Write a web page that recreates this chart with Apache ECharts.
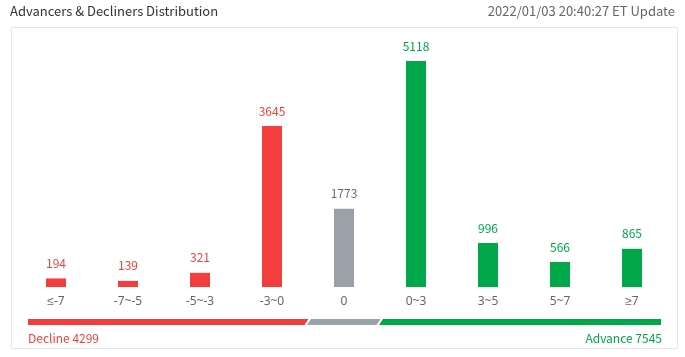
<!DOCTYPE html>
<html>
<head>
<meta charset="utf-8">
<script src="https://cdn.jsdelivr.net/npm/echarts@6/dist/echarts.min.js"></script>
<style>
html,body{margin:0;padding:0;background:#fff;}
#c{width:685px;height:357px;}
</style>
</head>
<body>
<div id="c"></div>
<script>
// ---- data ----
const categories = ['≤-7', '-7~-5', '-5~-3', '-3~0', '0', '0~3', '3~5', '5~7', '≥7'];
const counts = [194, 139, 321, 3645, 1773, 5118, 996, 566, 865];
const groups = ['down', 'down', 'down', 'down', 'flat', 'up', 'up', 'up', 'up'];
const declineCount = 4299;
const advanceCount = 7545;
const titleText = 'Advancers & Decliners Distribution';
const updateText = '2022/01/03 20:40:27 ET Update';
// segments of the bottom strip: [first category index, last category index, group]
const segments = [[0, 3, 'down'], [4, 4, 'flat'], [5, 8, 'up']];

// ---- styles ----
const FONT = '"Noto Sans CJK SC", "Noto Sans", sans-serif';
const AXFONT = '"Noto Sans", sans-serif';
const barColor = { down: '#f23f3d', flat: '#9aa1ab', up: '#00a84a' };
const labelColor = { down: '#f23f3d', flat: '#5f6f92', up: '#00a84a' };

const chart = echarts.init(document.getElementById('c'), null, { renderer: 'canvas' });

const barData = counts.map((v, i) => ({
  value: v,
  itemStyle: { color: barColor[groups[i]] },
  label: { color: labelColor[groups[i]] }
}));

function renderStrip(params, api) {
  const s = api.value(0), e = api.value(1), g = segments[params.dataIndex][2];
  const band = api.size([1, 0])[0];
  const base = api.coord([0, 0]);
  const y0 = base[1] + 32, h = 6;
  const leftEdge = api.coord([s, 0])[0] - band / 2;
  const rightEdge = api.coord([e, 0])[0] + band / 2;
  let tl, bl, tr, br;
  if (s === 0) { tl = bl = leftEdge + 8; } else { tl = leftEdge + 3; bl = leftEdge - 1; }
  if (e === categories.length - 1) { tr = br = rightEdge - 7; } else { tr = rightEdge + 0.5; br = rightEdge - 3.5; }
  const children = [{
    type: 'polygon',
    shape: { points: [[tl, y0], [tr, y0], [br, y0 + h], [bl, y0 + h]] },
    style: { fill: barColor[g] }
  }];
  if (g === 'down') {
    children.push({
      type: 'text',
      style: { text: 'Decline ' + declineCount, x: tl, y: y0 + 19, fill: barColor.down,
        font: '12px ' + FONT, align: 'left', verticalAlign: 'middle' }
    });
  } else if (g === 'up') {
    children.push({
      type: 'text',
      style: { text: 'Advance ' + advanceCount, x: tr + 1, y: y0 + 19, fill: barColor.up,
        font: '12px ' + FONT, align: 'right', verticalAlign: 'middle' }
    });
  }
  return { type: 'group', children };
}

chart.setOption({
  animation: false,
  backgroundColor: '#fff',
  textStyle: { fontFamily: FONT },
  graphic: [
    { type: 'rect', shape: { x: 11.5, y: 27.5, width: 666, height: 321 },
      style: { fill: 'none', stroke: '#e4e7ec', lineWidth: 1 }, silent: true },
    { type: 'text', left: 10, top: 5,
      style: { text: titleText, fill: '#333', font: '13px ' + FONT } },
    { type: 'text', right: 10, top: 5,
      style: { text: updateText, fill: '#666', font: '13px ' + FONT } }
  ],
  grid: { left: 20, right: 17, top: 22, bottom: 70 },
  xAxis: {
    type: 'category',
    data: categories,
    axisLine: { show: false },
    axisTick: { show: false },
    axisLabel: { margin: 9, color: '#666', fontSize: 12, fontFamily: AXFONT },
    splitLine: { show: false }
  },
  yAxis: { type: 'value', min: 0, max: 6000, show: false, splitLine: { show: false } },
  series: [
    {
      type: 'bar',
      data: barData,
      barWidth: 20,
      label: { show: true, position: 'top', distance: 9, fontSize: 12, fontFamily: FONT }
    },
    {
      type: 'custom',
      data: segments.map(s => [s[0], s[1]]),
      renderItem: renderStrip,
      clip: false,
      silent: true
    }
  ]
});
</script>
</body>
</html>
